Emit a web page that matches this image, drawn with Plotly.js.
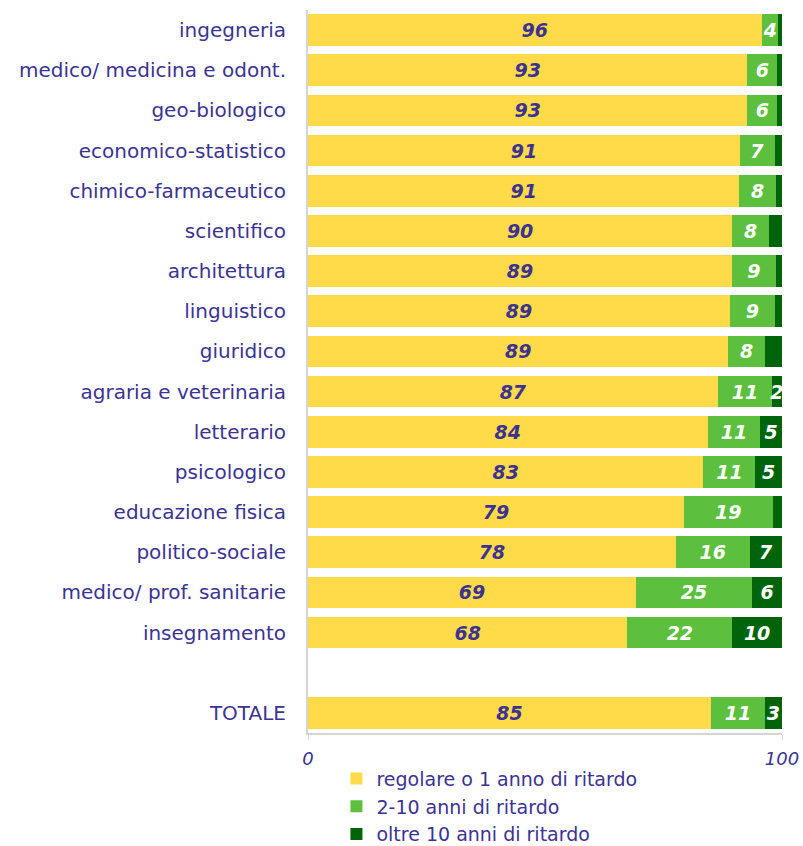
<!DOCTYPE html>
<html>
<head>
<meta charset="utf-8">
<script src="https://cdn.plot.ly/plotly-3.0.1.min.js"></script>
<style>
  html, body { margin: 0; padding: 0; background: #fff; }
  #chart { width: 803px; height: 846px; }
</style>
</head>
<body>
<div id="chart"></div>
<script>
// Categories, top to bottom (blank slot before TOTALE)
const categories = [
  'ingegneria', 'medico/ medicina e odont.', 'geo-biologico', 'economico-statistico',
  'chimico-farmaceutico', 'scientifico', 'architettura', 'linguistico', 'giuridico',
  'agraria e veterinaria', 'letterario', 'psicologico', 'educazione fisica',
  'politico-sociale', 'medico/ prof. sanitarie', 'insegnamento', 'TOTALE'
];
const slotOrder = categories.slice(0, 16).concat([' ', 'TOTALE']);

// Segment widths (%)
const regolare = [95.7, 92.7, 92.7, 91.1, 91.0, 89.5, 89.4, 89.0, 88.7, 86.6, 84.3, 83.4, 79.3, 77.6, 69.2, 67.4, 85.0];
const ritardo2_10 = [3.5, 6.3, 6.3, 7.4, 7.7, 7.8, 9.3, 9.5, 7.7, 11.2, 11.1, 11.0, 18.7, 15.6, 24.5, 22.1, 11.4];
const oltre10 = [0.8, 1.0, 1.0, 1.5, 1.3, 2.7, 1.3, 1.5, 3.6, 2.2, 4.6, 5.6, 2.0, 6.8, 6.3, 10.5, 3.6];

// Printed labels
const lblRegolare = ['96', '93', '93', '91', '91', '90', '89', '89', '89', '87', '84', '83', '79', '78', '69', '68', '85'];
const lblRitardo = ['4', '6', '6', '7', '8', '8', '9', '9', '8', '11', '11', '11', '19', '16', '25', '22', '11'];
const lblOltre = ['', '', '', '', '', '', '', '', '', '2', '5', '5', '', '7', '6', '10', '3'];

const seriesNames = ['regolare o 1 anno di ritardo', '2-10 anni di ritardo', 'oltre 10 anni di ritardo'];

const purple = '#3c3391';
const labelFont = { family: 'DejaVu Sans, Verdana, sans-serif', size: 19, style: 'italic', weight: 'bold' };

function barTrace(name, values, labels, color, textColor) {
  return {
    type: 'bar',
    orientation: 'h',
    name: name,
    x: values,
    y: categories,
    text: labels,
    texttemplate: '%{text}',
    textposition: 'inside',
    insidetextanchor: 'middle',
    textangle: 0,
    constraintext: 'none',
    insidetextfont: Object.assign({}, labelFont, { color: textColor }),
    marker: { color: color, line: { width: 0 } },
    hoverinfo: 'skip',
  };
}

const traces = [
  barTrace(seriesNames[0], regolare, lblRegolare, '#ffdb4a', purple),
  barTrace(seriesNames[1], ritardo2_10, lblRitardo, '#5cbf3e', '#ffffff'),
  barTrace(seriesNames[2], oltre10, lblOltre, '#00640a', '#ffffff'),
];

const layout = {
  width: 803,
  height: 846,
  barmode: 'stack',
  bargap: 0.21,
  margin: { t: 10, r: 21, b: 113, l: 308, autoexpand: false },
  paper_bgcolor: '#ffffff',
  plot_bgcolor: '#ffffff',
  font: { family: 'DejaVu Sans, Verdana, sans-serif', size: 20, color: purple },
  showlegend: true,
  legend: {
    orientation: 'v',
    traceorder: 'normal',
    x: 0.06, xanchor: 'left',
    y: -0.037, yanchor: 'top',
    font: { size: 19, color: purple },
    bgcolor: 'rgba(0,0,0,0)',
  },
  xaxis: {
    range: [0, 100],
    tickvals: [0, 100],
    ticktext: ['0', '100'],
    tickfont: { size: 18, style: 'italic', color: purple },
    ticks: 'outside',
    ticklen: 5,
    tickcolor: '#d4d4d4',
    ticklabelstandoff: 3,
    showgrid: false,
    zeroline: false,
    showline: true,
    linecolor: '#d4d4d4',
    linewidth: 2,
    fixedrange: true,
  },
  yaxis: {
    type: 'category',
    categoryorder: 'array',
    categoryarray: slotOrder,
    autorange: 'reversed',
    tickfont: { size: 20, color: purple },
    ticks: '',
    ticklabelstandoff: 16,
    showgrid: false,
    zeroline: false,
    showline: true,
    linecolor: '#d4d4d4',
    linewidth: 2,
    fixedrange: true,
  },
};

Plotly.newPlot('chart', traces, layout, { displayModeBar: false, staticPlot: true });
</script>
</body>
</html>
